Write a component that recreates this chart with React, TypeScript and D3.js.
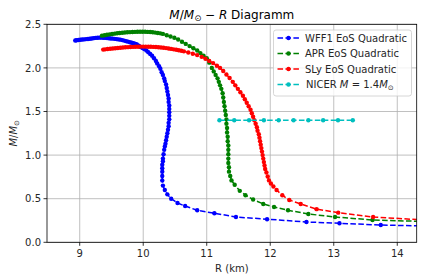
import React from 'react';
import * as d3 from 'd3';

// [R (km), M/M_sun] pairs
const wff1: [number, number][] = [
  [14.6, 0.185], [13.74, 0.198], [13.09, 0.218], [12.57, 0.233], [11.95, 0.265], [11.46, 0.29], [11.12, 0.333], [10.85, 0.367],
  [10.66, 0.416], [10.54, 0.45], [10.44, 0.5], [10.38, 0.55], [10.34, 0.6], [10.31, 0.65], [10.3, 0.71], [10.3, 0.76],
  [10.3, 0.81], [10.3, 0.85], [10.3, 0.89], [10.31, 0.93], [10.31, 0.96], [10.32, 1.01], [10.33, 1.06], [10.34, 1.1],
  [10.35, 1.13], [10.36, 1.17], [10.37, 1.21], [10.38, 1.25], [10.39, 1.29], [10.4, 1.33], [10.4, 1.37], [10.41, 1.41],
  [10.41, 1.45], [10.41, 1.49], [10.41, 1.53], [10.41, 1.57], [10.4, 1.61], [10.4, 1.65], [10.39, 1.69], [10.38, 1.73],
  [10.37, 1.77], [10.36, 1.81], [10.34, 1.85], [10.33, 1.88], [10.31, 1.92], [10.29, 1.95], [10.27, 1.99], [10.25, 2.02],
  [10.22, 2.05], [10.2, 2.08], [10.17, 2.11], [10.14, 2.14], [10.11, 2.16], [10.08, 2.18], [10.05, 2.2], [10.02, 2.215],
  [9.99, 2.228], [9.96, 2.24], [9.93, 2.255], [9.9, 2.268], [9.88, 2.275], [9.85, 2.283], [9.82, 2.289], [9.79, 2.295],
  [9.76, 2.301], [9.73, 2.307], [9.7, 2.313], [9.67, 2.319], [9.64, 2.324], [9.61, 2.327], [9.58, 2.33], [9.55, 2.333],
  [9.52, 2.336], [9.49, 2.338], [9.46, 2.34], [9.43, 2.342], [9.4, 2.344], [9.37, 2.346], [9.34, 2.347], [9.31, 2.347],
  [9.28, 2.346], [9.25, 2.344], [9.22, 2.341], [9.19, 2.338], [9.16, 2.335], [9.13, 2.332], [9.1, 2.33], [9.07, 2.327],
  [9.04, 2.325], [9.01, 2.322], [8.98, 2.32], [8.95, 2.317], [8.93, 2.315],
];

const apr: [number, number][] = [
  [14.6, 0.235], [13.61, 0.256], [13.02, 0.29], [12.6, 0.325], [12.28, 0.367], [12.06, 0.405], [11.89, 0.44], [11.73, 0.49],
  [11.61, 0.54], [11.52, 0.59], [11.44, 0.66], [11.39, 0.71], [11.37, 0.76], [11.35, 0.81], [11.35, 0.86], [11.34, 0.91],
  [11.34, 0.96], [11.34, 1.01], [11.34, 1.06], [11.34, 1.11], [11.33, 1.16], [11.33, 1.21], [11.32, 1.26], [11.32, 1.31],
  [11.31, 1.36], [11.31, 1.41], [11.3, 1.46], [11.29, 1.51], [11.28, 1.56], [11.27, 1.61], [11.26, 1.66], [11.25, 1.71],
  [11.23, 1.76], [11.21, 1.8], [11.19, 1.84], [11.17, 1.88], [11.14, 1.92], [11.11, 1.96], [11.08, 2.0], [11.04, 2.06],
  [11.0, 2.11], [10.95, 2.14], [10.9, 2.17], [10.85, 2.2], [10.79, 2.225], [10.73, 2.25], [10.67, 2.275], [10.61, 2.3],
  [10.55, 2.325], [10.49, 2.345], [10.43, 2.36], [10.37, 2.375], [10.31, 2.39], [10.27, 2.396], [10.23, 2.401], [10.19, 2.405],
  [10.15, 2.408], [10.11, 2.411], [10.07, 2.413], [10.03, 2.414], [9.99, 2.415], [9.95, 2.415], [9.91, 2.414], [9.87, 2.413],
  [9.83, 2.412], [9.79, 2.41], [9.75, 2.408], [9.71, 2.406], [9.67, 2.403], [9.63, 2.4], [9.59, 2.397], [9.55, 2.393],
  [9.51, 2.389], [9.47, 2.385], [9.43, 2.38], [9.39, 2.375], [9.35, 2.37],
];

const sly: [number, number][] = [
  [14.45, 0.255], [13.62, 0.29], [13.07, 0.34], [12.73, 0.38], [12.48, 0.44], [12.3, 0.485], [12.19, 0.54], [12.1, 0.6],
  [12.05, 0.64], [12.01, 0.675], [11.98, 0.71], [11.96, 0.755], [11.94, 0.8], [11.92, 0.84], [11.91, 0.88], [11.9, 0.92],
  [11.89, 0.96], [11.88, 1.0], [11.87, 1.04], [11.86, 1.08], [11.85, 1.12], [11.84, 1.16], [11.83, 1.2], [11.82, 1.24],
  [11.8, 1.28], [11.79, 1.32], [11.77, 1.36], [11.75, 1.4], [11.73, 1.44], [11.71, 1.48], [11.69, 1.52], [11.66, 1.56],
  [11.63, 1.6], [11.6, 1.64], [11.57, 1.68], [11.53, 1.72], [11.49, 1.76], [11.45, 1.8], [11.41, 1.84], [11.36, 1.885],
  [11.31, 1.925], [11.26, 1.965], [11.21, 2.0], [11.16, 2.025], [11.1, 2.055], [11.04, 2.08], [10.98, 2.105], [10.92, 2.127],
  [10.85, 2.147], [10.78, 2.163], [10.71, 2.177], [10.64, 2.19], [10.6, 2.196], [10.56, 2.202], [10.52, 2.208], [10.48, 2.213],
  [10.44, 2.218], [10.4, 2.222], [10.36, 2.227], [10.32, 2.231], [10.28, 2.234], [10.24, 2.237], [10.2, 2.239], [10.16, 2.241],
  [10.12, 2.242], [10.08, 2.243], [10.04, 2.244], [10.0, 2.244], [9.96, 2.244], [9.92, 2.243], [9.88, 2.242], [9.84, 2.241],
  [9.8, 2.24], [9.76, 2.238], [9.72, 2.236], [9.68, 2.234], [9.64, 2.231], [9.6, 2.228], [9.56, 2.225], [9.52, 2.222],
  [9.48, 2.219], [9.44, 2.216], [9.4, 2.213], [9.37, 2.21],
];

const nicerR = [11.2, 11.433, 11.667, 11.9, 12.133, 12.367, 12.6, 12.833, 13.067, 13.3];
const nicerM = 1.4;
const nicer: [number, number][] = nicerR.map(r => [r, nicerM]);

const xTicks = [9, 10, 11, 12, 13, 14];
const yTicks = [0, 0.5, 1.0, 1.5, 2.0, 2.5];

const seriesList = [
  { name: 'WFF1 EoS Quadratic', color: '#0000ff', pts: wff1 },
  { name: 'APR EoS Quadratic', color: '#008000', pts: apr },
  { name: 'SLy EoS Quadratic', color: '#ff0000', pts: sly },
  { name: 'NICER', color: '#00bfbf', pts: nicer },
];

const W = 423, H = 280;
const left = 47, right = 416.7, top = 24.3, bottom = 242.3;
const font = 'DejaVu Sans, sans-serif';

export default function App() {
  const x = d3.scaleLinear().domain([8.485, 14.306]).range([left, right]);
  const y = d3.scaleLinear().domain([0, 2.5]).range([bottom, top]);
  const cx = (left + right) / 2;

  const line = d3.line<[number, number]>().x(d => x(d[0])).y(d => y(d[1]));
  const legendY = [38, 53.5, 69, 84.5];

  return (
    <svg width={W} height={H} style={{ position: 'absolute', left: 0, top: 0, background: '#fff' }} fontFamily={font}>
      <defs>
        <clipPath id="plotclip">
          <rect x={left} y={top} width={right - left} height={bottom - top} />
        </clipPath>
      </defs>
      <rect x={0} y={0} width={W} height={H} fill="#fff" />

      {/* grid */}
      {xTicks.map(t => (
        <line key={'gx' + t} x1={x(t)} x2={x(t)} y1={top} y2={bottom} stroke="#b0b0b0" strokeWidth={0.8} />
      ))}
      {yTicks.map(t => (
        <line key={'gy' + t} x1={left} x2={right} y1={y(t)} y2={y(t)} stroke="#b0b0b0" strokeWidth={0.8} />
      ))}

      {/* curves */}
      <g clipPath="url(#plotclip)">
        {seriesList.map(s => (
          <g key={s.name}>
            <path d={line(s.pts) || ''} fill="none" stroke={s.color} strokeWidth={1.5} strokeDasharray="5.55,2.4" />
            {s.pts.map((p, i) => (
              <circle key={i} cx={x(p[0])} cy={y(p[1])} r={2.2} fill={s.color} />
            ))}
          </g>
        ))}
      </g>

      {/* axes frame */}
      <rect x={left} y={top} width={right - left} height={bottom - top} fill="none" stroke="#000" strokeWidth={0.8} />

      {/* ticks */}
      {xTicks.map(t => (
        <g key={'tx' + t}>
          <line x1={x(t)} x2={x(t)} y1={bottom} y2={bottom + 3.5} stroke="#000" strokeWidth={0.8} />
          <text x={x(t)} y={bottom + 15} fontSize={10} textAnchor="middle" fill="#262626">{t}</text>
        </g>
      ))}
      {yTicks.map(t => (
        <g key={'ty' + t}>
          <line x1={left - 3.5} x2={left} y1={y(t)} y2={y(t)} stroke="#000" strokeWidth={0.8} />
          <text x={left - 6} y={y(t) + 3.6} fontSize={10} textAnchor="end" fill="#262626">{t.toFixed(1)}</text>
        </g>
      ))}

      {/* labels */}
      <text x={cx} y={272} fontSize={10} textAnchor="middle" fill="#262626">R (km)</text>
      <text transform={`translate(17, ${(top + bottom) / 2}) rotate(-90)`} fontSize={10} textAnchor="middle" fill="#262626">
        <tspan fontStyle="italic">M</tspan><tspan>/</tspan><tspan fontStyle="italic">M</tspan><tspan fontSize={7} dy={2}>⊙</tspan>
      </text>
      <text x={cx} y={18.5} fontSize={12} textAnchor="middle" fill="#000">
        <tspan fontStyle="italic">M</tspan><tspan>/</tspan><tspan fontStyle="italic">M</tspan><tspan fontSize={8.5} dy={2.5}>⊙</tspan>
        <tspan dy={-2.5}> − </tspan><tspan fontStyle="italic">R</tspan><tspan> Diagramm</tspan>
      </text>

      {/* legend */}
      <rect x={273.5} y={30} width={138} height={66} rx={2.5} fill="#fff" fillOpacity={0.8} stroke="#cccccc" strokeWidth={0.8} />
      {seriesList.map((s, i) => (
        <g key={'lg' + s.name}>
          <line x1={277.5} x2={299.5} y1={legendY[i]} y2={legendY[i]} stroke={s.color} strokeWidth={1.5} strokeDasharray="5.55,2.4" />
          <circle cx={288.5} cy={legendY[i]} r={2.2} fill={s.color} />
          {i < 3 ? (
            <text x={305} y={legendY[i] + 3.6} fontSize={10} fill="#262626">{s.name}</text>
          ) : (
            <text x={306} y={legendY[i] + 3.6} fontSize={10} fill="#262626">
              <tspan>NICER </tspan><tspan fontStyle="italic">M</tspan><tspan> = 1.4</tspan><tspan fontStyle="italic">M</tspan><tspan fontSize={7} dy={2}>⊙</tspan>
            </text>
          )}
        </g>
      ))}
    </svg>
  );
}
